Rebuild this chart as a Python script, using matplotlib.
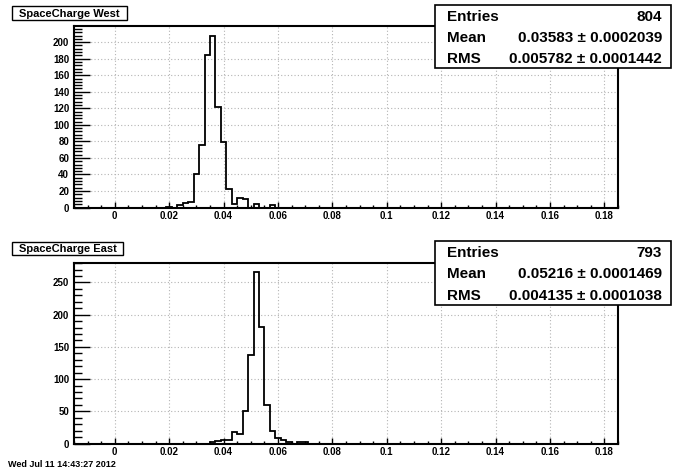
import numpy as np
import matplotlib
matplotlib.use("Agg")
import matplotlib.pyplot as plt
from matplotlib.patches import Rectangle
from matplotlib.ticker import MultipleLocator, FuncFormatter

plt.rcParams["font.family"] = ["Liberation Sans", "DejaVu Sans"]

# histogram binning (100 bins)
hist_range = (-0.015, 0.185)
n_bins = 100

# SpaceCharge West: bin centres and counts
west_centers = [0.020, 0.024, 0.026, 0.028, 0.030, 0.032, 0.034, 0.036,
                0.038, 0.040, 0.042, 0.044, 0.046, 0.048, 0.052, 0.058]
west_counts = [1, 3, 6, 7, 40, 75, 185, 208, 122, 79, 22, 4, 12, 10, 4, 3]
west_stats = ["804", "0.03583 \u00b1 0.0002039", "0.005782 \u00b1 0.0001442"]

# SpaceCharge East
east_centers = [0.036, 0.038, 0.040, 0.042, 0.044, 0.046, 0.048, 0.050,
                0.052, 0.054, 0.056, 0.058, 0.060, 0.062, 0.064, 0.068, 0.070]
east_counts = [2, 4, 5, 5, 18, 15, 50, 137, 267, 181, 60, 19, 8, 5, 3, 3, 2]
east_stats = ["793", "0.05216 \u00b1 0.0001469", "0.004135 \u00b1 0.0001038"]

stat_names = ["Entries", "Mean", "RMS"]

W, H = 696, 472
fig = plt.figure(figsize=(W / 100, H / 100), dpi=100)


def fx(x):
    return x / W


def fy(y):
    return 1 - y / H


def add_box(l, t, r, b, lw=1.0):
    rect = Rectangle((fx(l), fy(b)), (r - l) / W, (b - t) / H,
                     transform=fig.transFigure, facecolor="white",
                     edgecolor="black", linewidth=lw, zorder=5)
    fig.add_artist(rect)


def draw_hist(top, bottom, centers, counts, ymax, ymajor, yminor, title,
              title_box, stats, stats_box):
    ax = fig.add_axes([fx(74), fy(bottom), (618 - 74) / W, (bottom - top) / H])
    edges = np.linspace(hist_range[0], hist_range[1], n_bins + 1)
    ax.hist(centers, bins=edges, weights=counts, histtype="step",
            color="black", linewidth=1.3)
    ax.set_xlim(*hist_range)
    ax.set_ylim(0, ymax)

    ax.xaxis.set_major_locator(MultipleLocator(0.02))
    ax.xaxis.set_minor_locator(MultipleLocator(0.005))
    ax.yaxis.set_major_locator(MultipleLocator(ymajor))
    ax.yaxis.set_minor_locator(MultipleLocator(yminor))
    ax.xaxis.set_major_formatter(FuncFormatter(lambda v, p: "%g" % round(v, 4)))
    ax.yaxis.set_major_formatter(FuncFormatter(lambda v, p: "%g" % v))

    ax.tick_params(axis="x", which="major", direction="in", length=4.0,
                   width=1.0, pad=2.5, labelsize=7)
    ax.tick_params(axis="x", which="minor", direction="in", length=2.0, width=1.0)
    ax.tick_params(axis="y", which="major", direction="in", length=11.7,
                   width=1.0, pad=3.5, labelsize=7)
    ax.tick_params(axis="y", which="minor", direction="in", length=5.8, width=1.0)
    for lab in ax.get_xticklabels() + ax.get_yticklabels():
        lab.set_fontweight("bold")

    ax.grid(True, which="major", color="#b4b4b4", linestyle=(0, (1, 2)),
            linewidth=0.8)
    ax.set_axisbelow(True)
    for sp in ax.spines.values():
        sp.set_linewidth(1.5)

    # title box
    l, t, r, b = title_box
    add_box(l, t, r, b, lw=1.0)
    fig.text(fx((l + r) / 2), fy((t + b) / 2), title, ha="center",
             va="center_baseline", fontsize=8, fontweight="bold", zorder=6)

    # stats box
    l, t, r, b = stats_box
    add_box(l, t, r, b, lw=1.2)
    row_h = (b - t) / 3
    for i, (name, val) in enumerate(zip(stat_names, stats)):
        yc = t + row_h * (i + 0.5)
        fig.text(fx(l + 12), fy(yc), name, ha="left", va="center_baseline",
                 fontsize=11, fontweight="bold", zorder=6)
        fig.text(fx(r - 9), fy(yc), val, ha="right", va="center_baseline",
                 fontsize=11, fontweight="bold", zorder=6)
    return ax


draw_hist(26, 207.5, west_centers, west_counts, 219.5, 20, 4,
          "SpaceCharge West", (12, 6, 127, 19.5), west_stats, (435, 5, 671, 68))
draw_hist(262.5, 443.5, east_centers, east_counts, 281, 50, 10,
          "SpaceCharge East", (12, 241.5, 123, 255), east_stats, (435, 241, 671, 305))

# timestamp at the bottom edge
fig.text(fx(8), fy(460), "Wed Jul 11 14:43:27 2012", ha="left", va="top",
         fontsize=6.5, fontweight="bold")

fig.savefig("out.png", dpi=100)
